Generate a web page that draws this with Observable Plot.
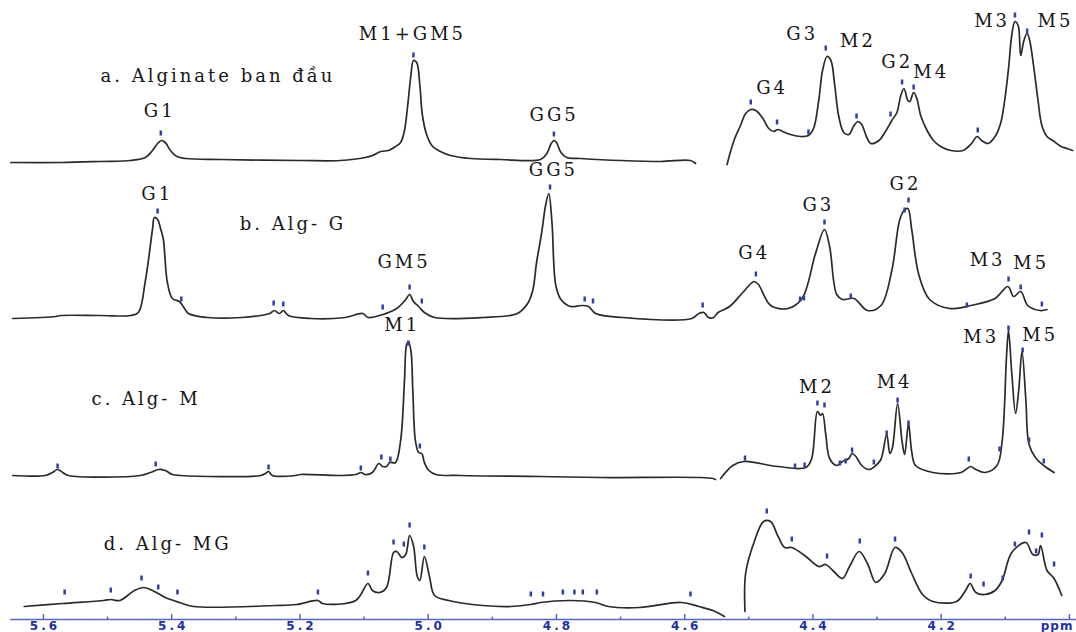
<!DOCTYPE html>
<html><head><meta charset="utf-8">
<script src="https://cdn.jsdelivr.net/npm/d3@7"></script>
<script src="https://cdn.jsdelivr.net/npm/@observablehq/plot@0.6"></script>
<style>
html,body{margin:0;padding:0;background:#fff;}
#chart svg{display:block;background:#fff}
</style></head><body><div id="chart"></div>
<script>
// ---- spectra: [ppm, intensity above the trace baseline] ----
const traceA_left = [[5.651,-2],[5.573,-2],[5.511,-1],[5.464,0],[5.441,3],[5.430,10],[5.422,17],[5.416,20],[5.410,18],[5.402,10],[5.392,4],[5.378,2],[5.324,1],[5.199,0],[5.137,0],[5.098,3],[5.087,5],[5.074,9],[5.062,10],[5.051,14],[5.043,18],[5.037,30],[5.032,55],[5.027,85],[5.023,100],[5.018,98],[5.013,75],[5.009,45],[5.002,25],[4.993,14],[4.981,9],[4.965,5],[4.934,2],[4.887,1],[4.825,1],[4.815,7],[4.809,16],[4.804,20],[4.800,18],[4.793,8],[4.784,3],[4.762,2],[4.700,0],[4.637,-1],[4.591,0],[4.583,-3]];
const traceA_right = [[4.534,-4],[4.528,10],[4.522,22],[4.513,35],[4.505,47],[4.497,51],[4.489,50],[4.478,42],[4.469,32],[4.461,29],[4.455,31],[4.447,29],[4.435,26],[4.419,24],[4.407,25],[4.399,32],[4.391,60],[4.385,90],[4.378,104],[4.372,100],[4.366,75],[4.360,45],[4.352,28],[4.344,26],[4.336,35],[4.330,39],[4.324,36],[4.316,23],[4.310,17],[4.297,20],[4.286,30],[4.277,40],[4.269,48],[4.263,65],[4.258,72],[4.252,60],[4.249,59],[4.243,68],[4.238,62],[4.232,45],[4.222,30],[4.212,20],[4.201,14],[4.185,10],[4.166,10],[4.154,16],[4.144,24],[4.137,20],[4.127,17],[4.115,25],[4.107,38],[4.101,60],[4.095,92],[4.090,125],[4.085,139],[4.080,135],[4.076,105],[4.071,120],[4.066,127],[4.062,120],[4.056,95],[4.049,60],[4.043,35],[4.035,24],[4.026,20],[4.013,14],[4.004,12],[3.995,10]];
const traceB = [[5.648,-2],[5.581,0],[5.573,1],[5.511,1],[5.464,1],[5.452,4],[5.441,36],[5.430,87],[5.427,99],[5.422,97],[5.417,87],[5.413,77],[5.407,35],[5.399,18],[5.388,15],[5.382,10],[5.374,3],[5.344,-1],[5.291,-1],[5.247,3],[5.240,6],[5.232,3],[5.226,6],[5.218,1],[5.183,-2],[5.130,-1],[5.102,3],[5.094,-1],[5.076,1],[5.049,8],[5.035,17],[5.029,22],[5.023,15],[5.015,10],[5.006,4],[4.990,-1],[4.915,-1],[4.861,3],[4.845,13],[4.837,26],[4.831,54],[4.823,84],[4.817,111],[4.812,123],[4.807,94],[4.801,31],[4.793,17],[4.778,10],[4.761,11],[4.750,10],[4.739,3],[4.697,-1],[4.589,-2],[4.578,3],[4.570,4],[4.563,-1],[4.555,-1],[4.548,4],[4.530,10],[4.508,25],[4.492,35],[4.485,32],[4.466,11],[4.439,8],[4.417,18],[4.396,63],[4.382,87],[4.374,70],[4.363,22],[4.354,17],[4.336,18],[4.315,6],[4.294,11],[4.277,46],[4.265,96],[4.258,106],[4.252,108],[4.246,87],[4.235,42],[4.218,17],[4.187,8],[4.154,11],[4.116,18],[4.096,30],[4.087,20],[4.076,25],[4.065,11],[4.046,6],[4.035,7]];
const traceC_left = [[5.648,0],[5.597,0],[5.586,3],[5.578,6],[5.570,3],[5.561,0],[5.449,0],[5.433,3],[5.421,6],[5.410,5],[5.399,1],[5.386,0],[5.261,0],[5.254,2],[5.249,4],[5.243,0],[5.207,0],[5.199,1],[5.137,0],[5.113,1],[5.105,3],[5.098,1],[5.087,3],[5.077,12],[5.071,9],[5.065,9],[5.060,13],[5.051,13],[5.043,35],[5.037,95],[5.034,130],[5.031,134],[5.027,125],[5.024,85],[5.020,35],[5.015,23],[5.010,22],[5.006,13],[4.999,5],[4.988,1],[4.949,0],[4.825,-1],[4.731,-2],[4.575,-2],[4.556,-3],[4.552,-4]];
const traceC_right = [[4.544,-3],[4.525,10],[4.508,14],[4.455,9],[4.411,8],[4.402,17],[4.393,64],[4.388,60],[4.385,62],[4.380,41],[4.374,17],[4.363,10],[4.354,14],[4.344,17],[4.339,22],[4.333,19],[4.324,10],[4.313,6],[4.302,10],[4.294,16],[4.285,41],[4.280,22],[4.276,28],[4.268,72],[4.261,34],[4.257,21],[4.251,52],[4.246,24],[4.240,10],[4.213,3],[4.169,3],[4.154,9],[4.146,6],[4.132,3],[4.113,10],[4.105,34],[4.098,121],[4.095,145],[4.090,103],[4.084,62],[4.079,86],[4.074,124],[4.068,76],[4.063,31],[4.052,17],[4.038,9],[4.024,3]];
const traceD_left = [[5.630,-1],[5.570,2],[5.506,5],[5.495,6],[5.481,5],[5.458,15],[5.444,18],[5.430,15],[5.421,12],[5.410,8],[5.388,3],[5.366,-1],[5.238,0],[5.205,1],[5.172,5],[5.165,2],[5.113,5],[5.094,22],[5.087,15],[5.076,13],[5.065,18],[5.054,53],[5.049,54],[5.041,48],[5.035,51],[5.029,70],[5.023,60],[5.017,29],[5.013,25],[5.006,49],[4.998,29],[4.990,10],[4.968,5],[4.915,0],[4.871,-1],[4.840,1],[4.825,3],[4.778,5],[4.739,3],[4.719,-1],[4.670,-2],[4.605,3],[4.578,-1],[4.556,-5],[4.538,-11]];
const traceD_right = [[4.506,-6],[4.505,32],[4.492,63],[4.477,84],[4.466,84],[4.455,70],[4.444,58],[4.433,58],[4.411,49],[4.391,39],[4.380,41],[4.369,35],[4.354,27],[4.343,39],[4.328,54],[4.315,42],[4.302,23],[4.288,32],[4.272,58],[4.261,53],[4.246,32],[4.229,11],[4.213,4],[4.176,4],[4.162,15],[4.155,22],[4.146,13],[4.132,11],[4.116,15],[4.105,25],[4.090,53],[4.068,63],[4.057,51],[4.049,51],[4.045,60],[4.035,35],[4.024,27],[4.012,10]];

// ---- peak-pick markers: [ppm, intensity] ----
const markA = [[5.417,27],[5.023,105],[4.804,26],[4.497,58],[4.456,38],[4.407,28],[4.380,112],[4.332,44],[4.279,46],[4.261,78],[4.243,73],[4.143,30],[4.085,145],[4.066,129]];
const markB = [[5.422,105],[5.385,17],[5.241,13],[5.226,12],[5.071,9],[5.029,29],[5.010,15],[4.810,129],[4.756,17],[4.743,15],[4.572,11],[4.489,42],[4.420,17],[4.414,18],[4.382,94],[4.341,20],[4.257,106],[4.251,116],[4.160,11],[4.095,37],[4.076,29],[4.043,12]];
const markC = [[5.578,9],[5.425,11],[5.249,8],[5.105,7],[5.073,18],[5.059,16],[5.031,132],[5.013,29],[4.506,17],[4.428,9],[4.413,10],[4.393,72],[4.382,70],[4.358,12],[4.349,14],[4.339,25],[4.305,13],[4.285,42],[4.268,75],[4.251,52],[4.157,16],[4.109,26],[4.095,147],[4.073,125],[4.063,35],[4.040,14]];
const markD = [[5.567,13],[5.495,15],[5.447,27],[5.421,18],[5.391,13],[5.172,13],[5.094,32],[5.054,63],[5.038,61],[5.029,80],[5.006,58],[4.840,11],[4.821,11],[4.790,13],[4.772,13],[4.759,13],[4.737,13],[4.591,11],[4.472,94],[4.433,66],[4.378,49],[4.327,64],[4.272,66],[4.154,29],[4.134,21],[4.104,27],[4.085,61],[4.063,73],[4.052,54],[4.043,70],[4.024,41]];

// ---- peak labels: [text, ppm, intensity] ----
const labelsA = [["G1",5.421,49],["M1+GM5",5.027,126],["GG5",4.806,45],["G4",4.466,72],["G3",4.419,126],["M2",4.332,119],["G2",4.271,98],["M4",4.218,88],["M3",4.123,139],["M5",4.024,139]];
const labelsB = [["G1",5.425,122],["GM5",5.040,54],["GG5",4.807,146],["G4",4.494,63],["G3",4.394,111],["G2",4.258,132],["M3",4.130,56],["M5",4.062,53]];
const labelsC = [["M1",5.043,150],["M2",4.396,88],["M4",4.275,93],["M3",4.140,138],["M5",4.048,140]];
const titles = [["a","a. Alginate ban đầu",5.511,84],["b","b. Alg- G",5.294,92],["c","c. Alg- M",5.525,76],["d","d. Alg- MG",5.506,61]];

// ---- axis ----
const majorTicks = [5.6,5.4,5.2,5.0,4.8,4.6,4.4,4.2,4.0];
const tickLabels = ["5.6","5.4","5.2","5.0","4.8","4.6","4.4","4.2"];
const minorTicks = [5.5,5.3,5.1,4.9,4.7,4.5,4.3,4.1];
const unitLabel = "ppm";

// ---- layout: vertical offset of each trace's baseline ----
const off = {a:472, b:316, c:157, d:27};

const series = [["a","L",traceA_left],["a","R",traceA_right],["b","L",traceB],["c","L",traceC_left],["c","R",traceC_right],["d","L",traceD_left],["d","R",traceD_right]];
const lineData = series.flatMap(([t,s,arr]) => arr.map(([ppm,h]) => ({key:t+s, ppm, y: off[t]+h})));
const markData = [["a",markA],["b",markB],["c",markC],["d",markD]].flatMap(([t,arr]) => arr.map(([ppm,h]) => ({ppm, y: off[t]+h})));
const labelData = [["a",labelsA],["b",labelsB],["c",labelsC]].flatMap(([t,arr]) => arr.map(([text,ppm,h]) => ({text, ppm, y: off[t]+h})));
const titleData = titles.map(([t,text,ppm,h]) => ({text, ppm, y: off[t]+h}));
const tickLabelData = tickLabels.map((s,i) => ({text:s, ppm: majorTicks[i]}));

const axisColor = "#5566c8";
const plot = Plot.plot({
  width: 1076, height: 632, margin: 0,
  x: {domain: [5.667, 3.989], axis: null},
  y: {domain: [0, 632], axis: null},
  style: {background: "#fff"},
  marks: [
    Plot.line(lineData, {x: "ppm", y: "y", z: "key", stroke: "#2a2a2a", strokeWidth: 1.7, curve: "catmull-rom"}),
    Plot.ruleX(markData, {x: "ppm", y1: d => d.y - 2.5, y2: d => d.y + 2.5, stroke: "#2f3fa6", strokeWidth: 2.5}),
    Plot.text(labelData, {x: "ppm", y: "y", text: "text", dx: 1.5, fontFamily: "DejaVu Serif", fontSize: 18, fill: "#151515"}),
    Plot.text(titleData, {x: "ppm", y: "y", text: "text", textAnchor: "start", fontFamily: "DejaVu Serif", fontSize: 18, fill: "#151515"}),
    Plot.ruleY([13], {x1: 5.651, x2: 3.989, stroke: axisColor, strokeWidth: 1.5}),
    Plot.ruleX(majorTicks, {x: d => d, y1: 12, y2: 18, stroke: axisColor, strokeWidth: 1.5}),
    Plot.ruleX(minorTicks, {x: d => d, y1: 13, y2: 15.5, stroke: axisColor, strokeWidth: 1.5}),
    Plot.text(tickLabelData, {x: "ppm", y: 6.5, text: "text", dx: 1.5, fontFamily: "DejaVu Sans", fontWeight: "bold", fontSize: 12, fill: "#1f2fa8"}),
    Plot.text([unitLabel], {x: 4.0, y: 6.5, text: d => d, textAnchor: "end", dx: 4, fontFamily: "DejaVu Sans", fontWeight: "bold", fontSize: 12, fill: "#1f2fa8"})
  ]
});
d3.select(plot).selectAll("text").each(function() {
  const t = this.textContent;
  if (/^\d\.\d$/.test(t)) this.setAttribute("letter-spacing", "3");
  else if (t === unitLabel) this.setAttribute("letter-spacing", "1");
  else this.setAttribute("letter-spacing", "3");
});
document.getElementById("chart").append(plot);
</script></body></html>
